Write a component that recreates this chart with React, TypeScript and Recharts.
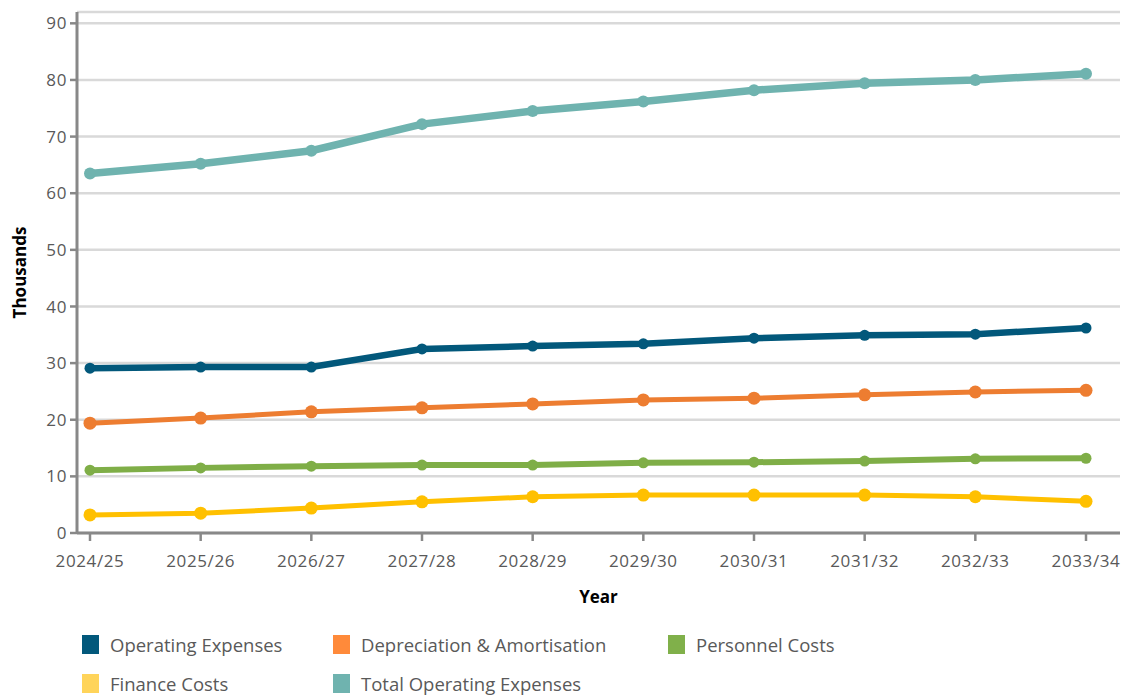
import React from "react";
import {
  LineChart,
  Line,
  XAxis,
  YAxis,
  CartesianGrid,
  Label
} from "recharts";

const years = [
  "2024/25", "2025/26", "2026/27", "2027/28", "2028/29",
  "2029/30", "2030/31", "2031/32", "2032/33", "2033/34"
];
const operatingExpenses = [29.1, 29.3, 29.3, 32.5, 33.0, 33.4, 34.4, 34.9, 35.1, 36.2];
const depreciation = [19.4, 20.3, 21.4, 22.1, 22.8, 23.5, 23.8, 24.4, 24.9, 25.2];
const personnelCosts = [11.1, 11.5, 11.8, 12.0, 12.0, 12.4, 12.5, 12.7, 13.1, 13.2];
const financeCosts = [3.2, 3.5, 4.4, 5.5, 6.4, 6.7, 6.7, 6.7, 6.4, 5.6];
const totalOperating = [63.5, 65.2, 67.5, 72.2, 74.5, 76.2, 78.2, 79.4, 80.0, 81.1];
const yTicks = [0, 10, 20, 30, 40, 50, 60, 70, 80, 90];

const series = [
  { key: "total", name: "Total Operating Expenses", color: "#6fb3af", swatch: "#6fb3af", width: 7.5, r: 6 },
  { key: "operating", name: "Operating Expenses", color: "#02587b", swatch: "#02587b", width: 6.5, r: 5.5 },
  { key: "depreciation", name: "Depreciation & Amortisation", color: "#ed7d31", swatch: "#ff8a3a", width: 5, r: 6.5 },
  { key: "personnel", name: "Personnel Costs", color: "#7fae47", swatch: "#80b04a", width: 6, r: 5.5 },
  { key: "finance", name: "Finance Costs", color: "#ffc000", swatch: "#ffd45a", width: 5, r: 6.5 }
];

const legendOrder = ["operating", "depreciation", "personnel", "finance", "total"];

const data = years.map((year, i) => ({
  year,
  operating: operatingExpenses[i],
  depreciation: depreciation[i],
  personnel: personnelCosts[i],
  finance: financeCosts[i],
  total: totalOperating[i]
}));

const font = "'Open Sans', Lato, sans-serif";
const axisColor = "#888888";
const tickStyle = { fill: "#595959", fontSize: 17, fontFamily: font, letterSpacing: 0.6 };

export default function App() {
  const legendCols = [82, 333, 668];
  return (
    <div style={{ position: "relative", width: 1126, height: 696, fontFamily: font, overflow: "hidden" }}>
      <style>{`body { margin: 0; }`}</style>
      <LineChart
        width={1126}
        height={696}
        data={data}
        margin={{ top: 12, right: 6, left: 0, bottom: 80 }}
      >
        <CartesianGrid horizontal vertical={false} stroke="#d9d9d9" strokeWidth={2.5} />
        <XAxis
          dataKey="year"
          padding={{ left: 13, right: 34 }}
          height={83}
          stroke={axisColor}
          strokeWidth={3}
          tickSize={8}
          tickLine={{ stroke: axisColor, strokeWidth: 2.5 }}
          tick={tickStyle}
          tickMargin={14}
        >
          <Label value="Year" position="insideBottom" offset={13} style={{ fill: "#000", fontSize: 17, fontWeight: 700, fontFamily: font }} />
        </XAxis>
        <YAxis
          width={77}
          domain={[0, 92]}
          ticks={yTicks}
          stroke={axisColor}
          strokeWidth={3}
          tickSize={7}
          tickLine={{ stroke: axisColor, strokeWidth: 2.5 }}
          tick={tickStyle}
          tickMargin={3}
        >
          <Label value="Thousands" angle={-90} position="insideLeft" offset={20} style={{ textAnchor: "middle", fill: "#000", fontSize: 17, fontWeight: 700, fontFamily: font }} />
        </YAxis>
        {series.map((s) => (
          <Line
            key={s.key}
            type="linear"
            dataKey={s.key}
            name={s.name}
            stroke={s.color}
            strokeWidth={s.width}
            dot={{ r: s.r, fill: s.color, stroke: "none" }}
            activeDot={false}
            isAnimationActive={false}
          />
        ))}
      </LineChart>
      {legendOrder.map((k, i) => {
        const s = series.find((x) => x.key === k)!;
        const col = i % 3;
        const row = Math.floor(i / 3);
        return (
          <div
            key={k}
            style={{
              position: "absolute",
              left: legendCols[col],
              top: 632 + row * 39,
              height: 24,
              display: "flex",
              alignItems: "center",
              fontSize: 18.5,
              color: "#595959",
              whiteSpace: "nowrap"
            }}
          >
            <span style={{ display: "inline-block", width: 17, height: 19, background: s.swatch, marginRight: 11 }} />
            {s.name}
          </div>
        );
      })}
    </div>
  );
}
